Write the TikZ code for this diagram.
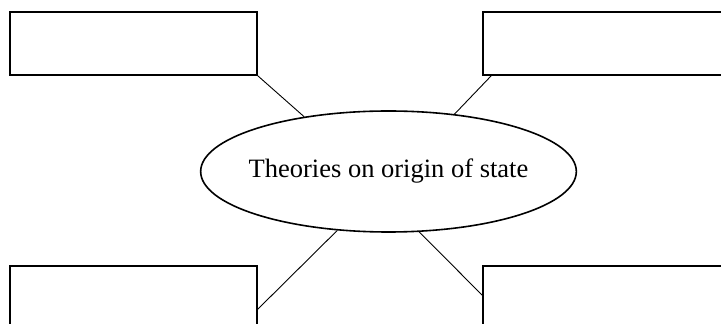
\documentclass[tikz,border=0pt]{standalone}
\usepackage{fontspec}
\setmainfont{Liberation Serif}
\usetikzlibrary{shapes.geometric}
\tikzset{
    box/.style={draw, line width=1.6pt, minimum width=247pt, minimum height=63pt, inner sep=0pt},
    link/.style={line width=0.9pt}
}
\begin{document}
\begin{tikzpicture}[x=1pt,y=1pt]
    \useasboundingbox (0,0) rectangle (721,324);
    \clip (0,0) rectangle (721,324);
    \node [box] (tl) at (133.5,280.5) {};
    \node [box] (tr) at (606.5,280.5) {};
    \node [box] (bl) at (133.5,26.5) {};
    \node [box] (br) at (606.5,26.5) {};
    \node [ellipse, draw, line width=1.6pt, minimum width=373pt, minimum height=121pt, inner xsep=-7pt, inner ysep=0pt, font=\fontsize{26.5}{30}\selectfont] (st) at (388.5,152.5) {Theories on origin of state};
    \draw [link] (tl.south east) -- (st.147.5);
    \draw [link] ([xshift=9pt]tr.south west) -- (st.41.8);
    \draw [link] ([yshift=-44pt]bl.north east) -- (st.229.3);
    \draw [link] ([yshift=-30pt]br.north west) -- (st.297.5);
\end{tikzpicture}
\end{document}
